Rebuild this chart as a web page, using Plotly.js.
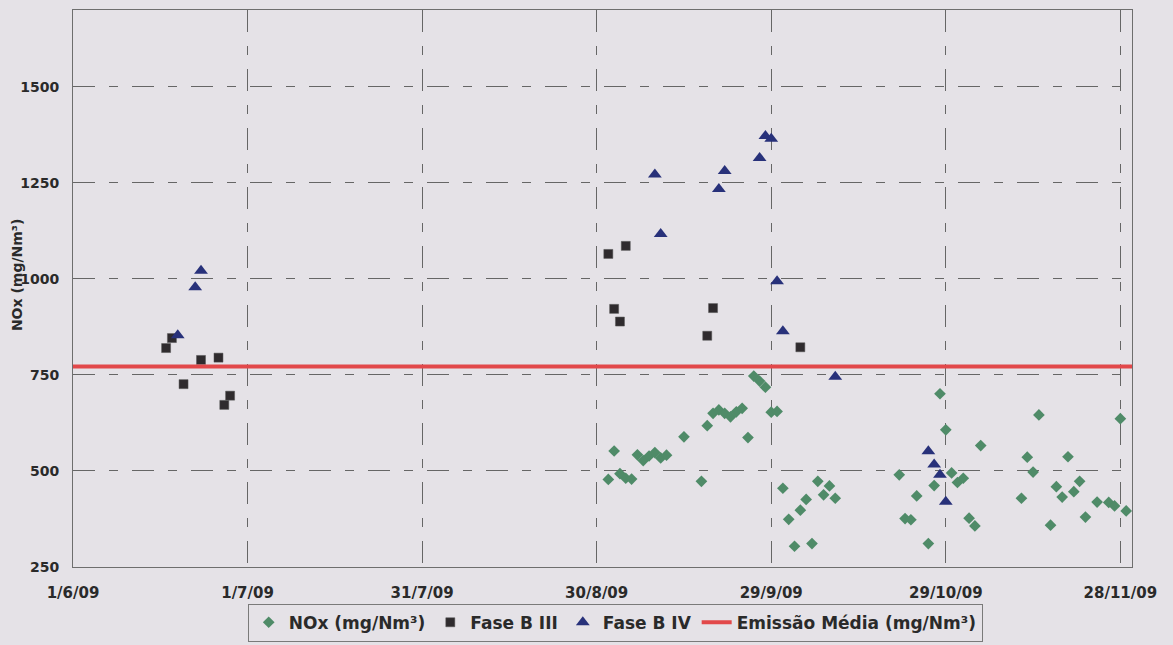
<!DOCTYPE html>
<html><head><meta charset="utf-8">
<script src="https://cdn.plot.ly/plotly-3.0.1.min.js"></script>
<style>html,body{margin:0;padding:0;background:#e5e2e7;} #chart{width:1173px;height:645px;}</style>
</head><body><div id="chart"></div>
<script>
// NOx (mg/Nm3) daily values
const noxDates = ['2009-09-01','2009-09-02','2009-09-03','2009-09-04','2009-09-05','2009-09-06','2009-09-07','2009-09-08','2009-09-09','2009-09-10','2009-09-11','2009-09-14','2009-09-17','2009-09-18','2009-09-19','2009-09-20','2009-09-21','2009-09-22','2009-09-23','2009-09-24','2009-09-25','2009-09-26','2009-09-27','2009-09-28','2009-09-29','2009-09-30','2009-10-01','2009-10-02','2009-10-03','2009-10-04','2009-10-05','2009-10-06','2009-10-07','2009-10-08','2009-10-09','2009-10-10','2009-10-21','2009-10-22','2009-10-23','2009-10-24','2009-10-26','2009-10-27','2009-10-28','2009-10-29','2009-10-30','2009-10-31','2009-11-01','2009-11-02','2009-11-03','2009-11-04','2009-11-11','2009-11-12','2009-11-13','2009-11-14','2009-11-16','2009-11-17','2009-11-18','2009-11-19','2009-11-20','2009-11-21','2009-11-22','2009-11-24','2009-11-26','2009-11-27','2009-11-28','2009-11-29'];
const noxValues = [478,552,493,481,479,542,527,539,548,534,541,589,473,618,650,659,650,641,654,663,587,747,734,718,653,655,455,374,304,398,426,311,473,438,461,429,490,376,373,435,311,462,701,607,495,470,481,377,357,566,429,536,497,646,359,459,432,537,446,473,380,419,418,409,636,396];

// Fase B III
const faseB3Dates = ['2009-06-17','2009-06-18','2009-06-20','2009-06-23','2009-06-26','2009-06-27','2009-06-28','2009-09-01','2009-09-02','2009-09-03','2009-09-04','2009-09-18','2009-09-19','2009-10-04'];
const faseB3Values = [820,846,726,789,795,672,696,1065,922,889,1086,852,924,822];

// Fase B IV
const faseB4Dates = ['2009-06-19','2009-06-22','2009-06-23','2009-09-09','2009-09-10','2009-09-20','2009-09-21','2009-09-27','2009-09-28','2009-09-29','2009-09-30','2009-10-01','2009-10-10','2009-10-26','2009-10-27','2009-10-28','2009-10-29'];
const faseB4Values = [853,978,1021,1272,1117,1234,1281,1315,1372,1365,994,864,745,551,517,490,420];

// Emissão Média
const emissaoDates = ['2009-06-01','2009-11-30'];
const emissaoValues = [772,772];

const tickDates = ['2009-06-01','2009-07-01','2009-07-31','2009-08-30','2009-09-29','2009-10-29','2009-11-28'];
const tickLabels = ['1/6/09','1/7/09','31/7/09','30/8/09','29/9/09','29/10/09','28/11/09'];
const yTicks = [250,500,750,1000,1250,1500];
const yTitle = 'NOx (mg/Nm³)';

const txt = '#2a2a2a';
const bold = (s) => ({family:'DejaVu Sans, Verdana, sans-serif', size:s, color:txt, weight:'bold'});
const gridDash = '22px,14px,9px,14px';

const traces = [
  {type:'scatter', mode:'markers', name:'NOx (mg/Nm³)', x:noxDates, y:noxValues,
   marker:{symbol:'diamond', size:9, color:'#4f8b68'}},
  {type:'scatter', mode:'markers', name:'Fase B III', x:faseB3Dates, y:faseB3Values,
   marker:{symbol:'square', size:9, color:'#2f2b2e', line:{width:0.5, color:'#555'}}},
  {type:'scatter', mode:'markers', name:'Fase B IV', x:faseB4Dates, y:faseB4Values,
   marker:{symbol:'triangle-up', size:12, color:'#28317a'}},
  {type:'scatter', mode:'lines', name:'Emissão Média (mg/Nm³)', x:emissaoDates, y:emissaoValues,
   line:{color:'#e2484a', width:4}}
];

const layout = {
  width:1173, height:645,
  paper_bgcolor:'#e5e2e7', plot_bgcolor:'#e5e2e7',
  margin:{l:73, r:41, t:10, b:78},
  showlegend:true,
  legend:{orientation:'h', xref:'paper', x:0.512, xanchor:'center', yref:'container', y:0.064, yanchor:'top',
    font:bold(17), bordercolor:'#7a7a7a', borderwidth:1, bgcolor:'#e5e2e7',
    itemwidth:30, tracegroupgap:0},
  xaxis:{type:'date', range:['2009-06-01','2009-11-30'], tickvals:tickDates, ticktext:tickLabels,
    tickfont:bold(15), ticks:'', ticklabelstandoff:12,
    showgrid:true, gridcolor:'#666', gridwidth:1, griddash:gridDash,
    showline:true, linecolor:'#6e6e6e', linewidth:1, mirror:true, zeroline:false},
  yaxis:{range:[250,1700], tickvals:yTicks, tickfont:bold(14), ticks:'', ticklabelstandoff:10,
    showgrid:true, gridcolor:'#666', gridwidth:1, griddash:gridDash,
    showline:true, linecolor:'#6e6e6e', linewidth:1, mirror:true, zeroline:false},
  annotations:[{text:yTitle, xref:'paper', yref:'paper', x:-0.0529, y:0.524,
    xanchor:'center', yanchor:'middle', textangle:-90, showarrow:false, font:bold(14)}]
};

Plotly.newPlot('chart', traces, layout, {displayModeBar:false, staticPlot:true});
</script>
</body></html>
